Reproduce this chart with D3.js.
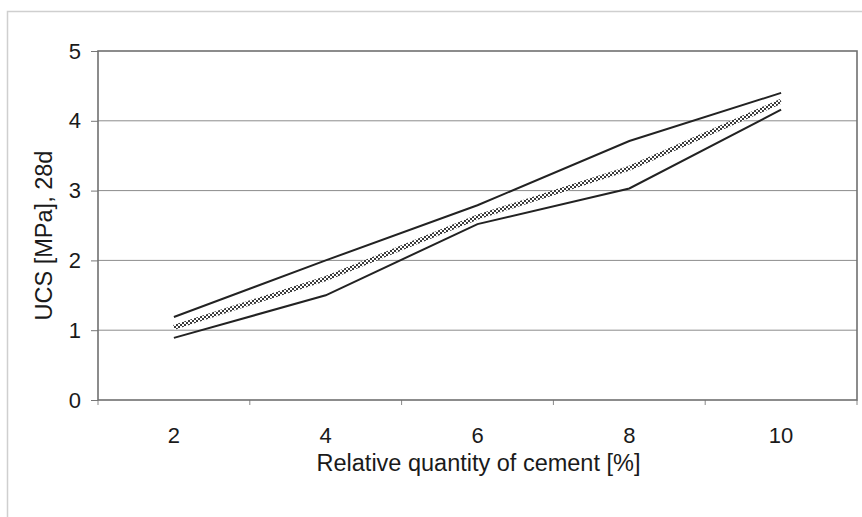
<!DOCTYPE html>
<html>
<head>
<meta charset="utf-8">
<script src="https://cdn.jsdelivr.net/npm/d3@7"></script>
<style>
  html, body { margin: 0; padding: 0; background: #fff; }
  svg { display: block; }
  text { font-family: "Liberation Sans", Arial, sans-serif; fill: #1a1a1a; }
</style>
</head>
<body>
<svg id="chart" width="862" height="517"></svg>
<script>
// Cement content (%) on the category axis
const categories = ["2", "4", "6", "8", "10"];
// UCS after 28 days, MPa: upper bound, mean, lower bound
const upperValues = [1.19, 2.0, 2.79, 3.71, 4.4];
const meanValues  = [1.04, 1.74, 2.62, 3.32, 4.28];
const lowerValues = [0.89, 1.5, 2.52, 3.03, 4.16];
const yTicks = [0, 1, 2, 3, 4, 5];

const svg = d3.select("#chart");
const margin = { left: 98, right: 5, top: 51, bottom: 117 };
const W = 862, H = 517;
const x0 = margin.left, x1 = W - margin.right;
const y0 = H - margin.bottom, y1 = margin.top;
const FONT = "'Liberation Sans', Arial, sans-serif";

// Outer chart frame
svg.append("path")
  .attr("d", `M7.5,${H} V11.5 H${W}`)
  .attr("fill", "none").attr("stroke", "#cfcfcf").attr("stroke-width", 1.5);

const x = d3.scaleBand().domain(categories).range([x0, x1]);
const y = d3.scaleLinear().domain([0, 5]).range([y0, y1]);

// Checkered stroke for the mean curve
const defs = svg.append("defs");
const pat = defs.append("pattern").attr("id", "checker")
  .attr("patternUnits", "userSpaceOnUse").attr("width", 4).attr("height", 4);
pat.append("rect").attr("width", 4).attr("height", 4).attr("fill", "#ffffff");
pat.append("rect").attr("width", 2).attr("height", 2).attr("fill", "#3a3a3a");
pat.append("rect").attr("x", 2).attr("y", 2).attr("width", 2).attr("height", 2).attr("fill", "#3a3a3a");

// Horizontal gridlines
svg.append("g").selectAll("line")
  .data(yTicks.filter(t => t > 0 && t < 5))
  .join("line")
  .attr("x1", x0).attr("x2", x1)
  .attr("y1", d => y(d)).attr("y2", d => y(d))
  .attr("stroke", "#8c8c8c").attr("stroke-width", 1);

// Y axis
const yAxis = svg.append("g")
  .attr("transform", `translate(${x0},0)`)
  .call(d3.axisLeft(y).tickValues(yTicks).tickSize(7).tickPadding(10).tickFormat(d3.format("d")));
yAxis.select(".domain").remove();
yAxis.selectAll("line").attr("stroke", "#777");
yAxis.selectAll("text").attr("font-size", 22).attr("fill", "#1a1a1a").style("font-family", FONT);

// X axis (ticks between categories)
const xAxis = svg.append("g")
  .attr("transform", `translate(0,${y0})`)
  .call(d3.axisBottom(x).tickSize(0).tickPadding(27));
xAxis.select(".domain").remove();
xAxis.selectAll("text").attr("font-size", 22).attr("fill", "#1a1a1a").style("font-family", FONT);
svg.append("g").selectAll("line")
  .data(d3.range(categories.length + 1))
  .join("line")
  .attr("x1", i => x0 + i * x.step()).attr("x2", i => x0 + i * x.step())
  .attr("y1", y0).attr("y2", y0 + 5)
  .attr("stroke", "#888").attr("stroke-width", 1);

// Plot area border
svg.append("rect")
  .attr("x", x0).attr("y", y1)
  .attr("width", x1 - x0).attr("height", y0 - y1)
  .attr("fill", "none").attr("stroke", "#707070").attr("stroke-width", 1.6);

const line = d3.line()
  .x((d, i) => x(categories[i]) + x.bandwidth() / 2)
  .y(d => y(d));

svg.append("path").datum(upperValues).attr("d", line)
  .attr("fill", "none").attr("stroke", "#222").attr("stroke-width", 2);
svg.append("path").datum(lowerValues).attr("d", line)
  .attr("fill", "none").attr("stroke", "#222").attr("stroke-width", 2);
svg.append("path").datum(meanValues).attr("d", line)
  .attr("fill", "none").attr("stroke", "url(#checker)").attr("stroke-width", 5);

// Axis titles
svg.append("text")
  .attr("x", (x0 + x1) / 2 + 1).attr("y", 471)
  .attr("text-anchor", "middle").attr("font-size", 23.5)
  .text("Relative quantity of cement [%]");
svg.append("text")
  .attr("transform", `translate(52,${(y0 + y1) / 2 + 10}) rotate(-90)`)
  .attr("text-anchor", "middle").attr("font-size", 23.5)
  .text("UCS [MPa], 28d");
</script>
</body>
</html>
